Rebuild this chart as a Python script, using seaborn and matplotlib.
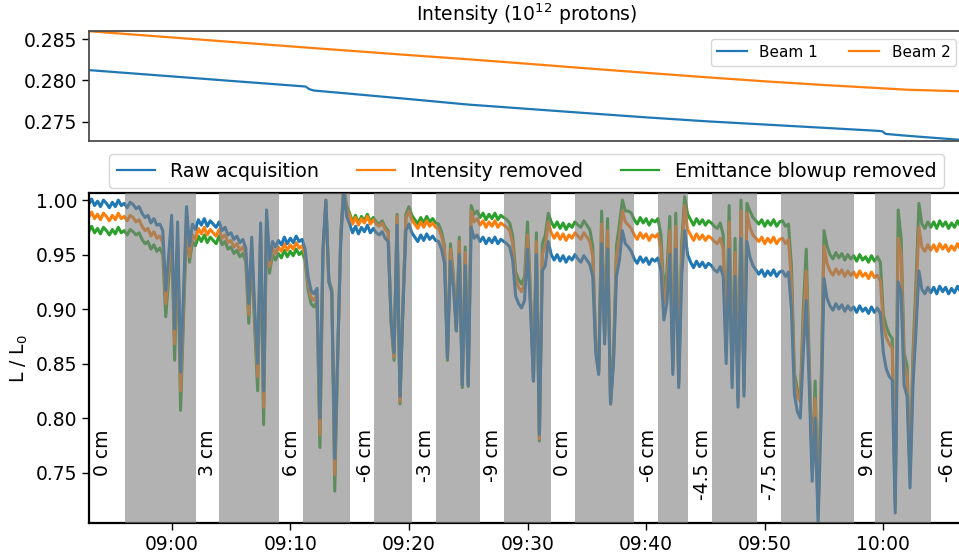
import matplotlib
matplotlib.use("Agg")
import matplotlib.pyplot as plt
import matplotlib.dates as mdates
import numpy as np
import pandas as pd
import seaborn as sns

# Luminosity ratio L/L0 in units of 1e-3, one sample every 15 s from 08:53:00
raw_permille = [
    996, 1001, 995, 999, 994, 1000, 997, 993,
    998, 994, 1000, 995, 997, 993, 998, 996,
    992, 994, 988, 984, 986, 979, 983, 977,
    978, 972, 917, 950, 986, 882, 980, 842,
    915, 994, 958, 978, 973, 982, 977, 983,
    976, 981, 978, 975, 980, 972, 975, 968,
    970, 964, 967, 961, 964, 956, 905, 966,
    900, 850, 979, 825, 991, 945, 962, 957,
    963, 959, 966, 960, 965, 961, 967, 962,
    964, 955, 930, 917, 914, 919, 800, 955,
    1000, 925, 915, 763, 860, 960, 1008, 985,
    978, 970, 976, 969, 975, 971, 977, 970,
    974, 970, 968, 971, 965, 962, 890, 860,
    977, 820, 900, 972, 978, 970, 966, 962,
    968, 963, 969, 964, 967, 963, 962, 955,
    942, 855, 944, 920, 880, 950, 830, 940,
    830, 975, 965, 968, 962, 966, 960, 965,
    961, 966, 960, 964, 962, 960, 957, 945,
    912, 905, 901, 908, 955, 900, 834, 950,
    785, 935, 940, 962, 950, 945, 950, 944,
    949, 943, 948, 945, 950, 946, 943, 949,
    945, 941, 930, 860, 840, 960, 868, 955,
    813, 850, 930, 945, 972, 960, 957, 953,
    946, 942, 948, 943, 947, 941, 946, 944,
    947, 935, 890, 905, 950, 840, 955, 828,
    930, 972, 950, 943, 938, 944, 939, 943,
    938, 942, 940, 936, 934, 939, 930, 850,
    955, 828, 930, 810, 965, 820, 962, 948,
    940, 936, 932, 936, 930, 935, 931, 936,
    930, 934, 935, 930, 934, 900, 822, 806,
    800, 860, 908, 830, 742, 800, 702, 800,
    928, 910, 903, 899, 905, 900, 904, 898,
    903, 899, 902, 897, 903, 898, 901, 896,
    902, 897, 901, 896, 860, 845, 838, 835,
    713, 925, 915, 830, 820, 736, 830, 880,
    935, 918, 914, 920, 915, 920, 914, 921,
    916, 920, 914, 919, 915, 921, 916,
]

intensity_removed_permille = [
    984, 989, 983, 987, 982, 988, 985, 981,
    986, 982, 988, 983, 985, 981, 986, 984,
    980, 982, 976, 972, 974, 967, 971, 965,
    967, 961, 905, 938, 975, 868, 969, 825,
    901, 984, 948, 968, 964, 974, 969, 975,
    968, 973, 970, 967, 973, 965, 968, 961,
    963, 957, 960, 954, 957, 949, 895, 959,
    890, 838, 973, 810, 985, 939, 956, 951,
    957, 953, 960, 954, 959, 955, 961, 956,
    958, 949, 924, 911, 908, 913, 785, 950,
    1000, 925, 917, 748, 858, 965, 1010, 992,
    986, 978, 984, 977, 983, 979, 985, 978,
    982, 978, 976, 979, 973, 970, 888, 856,
    985, 815, 905, 983, 990, 982, 978, 974,
    980, 975, 981, 976, 979, 975, 974, 967,
    955, 855, 955, 928, 880, 962, 830, 952,
    831, 990, 980, 983, 977, 981, 975, 980,
    976, 981, 975, 979, 977, 975, 972, 960,
    927, 920, 916, 923, 968, 910, 834, 962,
    781, 950, 958, 980, 970, 965, 970, 964,
    969, 963, 968, 965, 970, 967, 964, 970,
    966, 962, 948, 865, 842, 978, 873, 972,
    813, 855, 948, 965, 990, 980, 977, 974,
    968, 964, 970, 965, 969, 963, 968, 966,
    969, 955, 905, 922, 972, 845, 976, 832,
    950, 995, 973, 968, 963, 969, 964, 968,
    963, 967, 965, 962, 960, 965, 955, 858,
    980, 835, 952, 815, 990, 826, 988, 975,
    968, 965, 962, 966, 960, 965, 961, 966,
    960, 964, 965, 960, 964, 925, 835, 820,
    815, 885, 935, 845, 750, 818, 712, 820,
    958, 942, 935, 931, 937, 932, 936, 930,
    935, 931, 934, 929, 935, 930, 933, 928,
    934, 929, 931, 926, 885, 874, 868, 864,
    720, 965, 950, 850, 838, 745, 850, 910,
    975, 957, 953, 959, 954, 959, 953, 960,
    955, 959, 953, 958, 954, 960, 955,
]

emittance_removed_permille = [
    971, 976, 970, 974, 969, 975, 972, 968,
    973, 969, 975, 970, 972, 968, 973, 971,
    968, 970, 964, 960, 962, 955, 959, 953,
    956, 950, 893, 928, 965, 853, 958, 807,
    890, 976, 943, 962, 958, 967, 962, 968,
    961, 966, 963, 960, 967, 959, 962, 955,
    957, 951, 954, 948, 951, 943, 887, 953,
    882, 825, 967, 794, 979, 933, 950, 945,
    951, 947, 954, 948, 953, 949, 955, 950,
    953, 944, 918, 905, 902, 907, 773, 948,
    998, 927, 918, 733, 857, 968, 1012, 995,
    988, 980, 986, 979, 985, 981, 987, 980,
    984, 980, 978, 981, 975, 972, 887, 853,
    987, 813, 905, 987, 994, 986, 982, 978,
    984, 979, 985, 980, 983, 979, 978, 971,
    958, 853, 960, 932, 880, 966, 828, 957,
    829, 995, 987, 990, 984, 988, 982, 987,
    983, 988, 982, 986, 984, 982, 979, 967,
    934, 927, 923, 930, 980, 915, 834, 970,
    779, 960, 968, 988, 980, 975, 980, 974,
    979, 973, 978, 975, 980, 977, 975, 981,
    977, 973, 958, 868, 843, 990, 876, 983,
    813, 858, 958, 978, 1000, 990, 990, 988,
    982, 978, 984, 979, 983, 977, 982, 980,
    983, 968, 915, 935, 985, 848, 988, 835,
    962, 1003, 987, 982, 977, 983, 978, 982,
    977, 981, 979, 976, 974, 979, 968, 862,
    995, 838, 965, 818, 1000, 830, 997, 990,
    984, 981, 978, 982, 976, 981, 977, 982,
    976, 980, 981, 976, 978, 940, 842, 826,
    820, 900, 955, 852, 752, 834, 716, 830,
    972, 958, 950, 946, 952, 947, 951, 945,
    950, 946, 949, 944, 950, 945, 948, 943,
    949, 944, 948, 943, 895, 884, 877, 873,
    725, 991, 965, 860, 848, 750, 860, 925,
    997, 978, 974, 980, 975, 980, 974, 981,
    976, 980, 974, 979, 975, 981, 976,
]

# Beam intensities (1e12 protons) at minutes relative to 09:00
beam_minutes = [-7, 0, 5, 10, 11.0, 11.3, 11.6, 12.0, 15, 20, 25, 30, 35,
                40, 45, 50, 55, 59.6, 59.9, 60.2, 62, 66.8]
beam1_intensity = [0.28126, 0.28050, 0.27995, 0.27941, 0.27930, 0.27926,
                   0.27895, 0.27878, 0.27840, 0.27775, 0.27708, 0.27656,
                   0.27604, 0.27553, 0.27506, 0.27466, 0.27426, 0.27389,
                   0.27384, 0.27352, 0.27330, 0.27277]
beam2_intensity = [0.28598, 0.28522, 0.28468, 0.28414, 0.28403, 0.28400,
                   0.28397, 0.28392, 0.28361, 0.28308, 0.28257, 0.28203,
                   0.28147, 0.28093, 0.28040, 0.27990, 0.27945, 0.27908,
                   0.27905, 0.27903, 0.27888, 0.27868]

# Separation scans (minutes relative to 09:00) and the offset of each plateau
scan_windows = [(-3.96, 2.02), (4.01, 9.02), (11.05, 15.03), (17.03, 20.29),
                (22.29, 26.0), (28.02, 32.0), (34.03, 39.0), (41.03, 43.53),
                (45.56, 49.35), (51.4, 57.55), (59.3, 64.02)]
offset_labels = ["0 cm", "3 cm", "6 cm", "-6 cm", "-3 cm", "-9 cm", "0 cm",
                 "-6 cm", "-4.5 cm", "-7.5 cm", "9 cm", "-6 cm"]
offset_label_minutes = [-5.83, 3.06, 10.12, 16.38, 21.36, 27.09, 32.92,
                        40.17, 44.76, 50.49, 58.67, 65.41]

plt.rcParams["font.family"] = ["DejaVu Sans"]
FS = 13.5

hour_mark = pd.Timestamp("2018-10-26 09:00:00")
sample_times = pd.date_range(hour_mark - pd.Timedelta(minutes=7),
                             periods=len(raw_permille), freq="15s")


def at(minutes):
    return mdates.date2num(hour_mark + pd.Timedelta(minutes=minutes))


lumi = pd.DataFrame({
    "time": sample_times,
    "raw": np.array(raw_permille) / 1000.0,
    "intensity": np.array(intensity_removed_permille) / 1000.0,
    "emittance": np.array(emittance_removed_permille) / 1000.0,
})
beams = pd.DataFrame({
    "time": hour_mark + pd.to_timedelta(beam_minutes, unit="min"),
    "beam1": beam1_intensity,
    "beam2": beam2_intensity,
})

W, H = 959, 557
fig = plt.figure(figsize=(W / 100, H / 100), dpi=100)
left, right = 89, 964
ax_top = fig.add_axes([left / W, 1 - 140.7 / H, (right - left) / W, 109.7 / H])
ax_bot = fig.add_axes([left / W, 1 - 523.3 / H, (right - left) / W, 330.3 / H])

blue, orange, green = "#1f77b4", "#ff7f0e", "#2ca02c"
LW = 2.2

# --- beam intensity panel
sns.lineplot(data=beams, x="time", y="beam1", ax=ax_top, color=blue,
             lw=1.6, label="Beam 1", estimator=None)
sns.lineplot(data=beams, x="time", y="beam2", ax=ax_top, color=orange,
             lw=1.6, label="Beam 2", estimator=None)
ax_top.set_ylim(0.2727, 0.2860)
ax_top.set_yticks([0.275, 0.280, 0.285])
ax_top.set_yticklabels(["0.275", "0.280", "0.285"])
ax_top.set_xlabel("")
ax_top.set_ylabel("")
ax_top.set_title("Intensity (10$^{12}$ protons)", fontsize=FS, pad=7)
ax_top.tick_params(axis="x", bottom=False, labelbottom=False)
ax_top.tick_params(axis="y", labelsize=FS, length=5, width=1)
for sp in ax_top.spines.values():
    sp.set_color("0.3")
    sp.set_linewidth(1.3)
ax_top.legend(loc="upper right", ncol=2, fontsize=11)

# --- luminosity panel
sns.lineplot(data=lumi, x="time", y="emittance", ax=ax_bot, color=green,
             lw=LW, estimator=None, zorder=2.1)
sns.lineplot(data=lumi, x="time", y="intensity", ax=ax_bot, color=orange,
             lw=LW, estimator=None, zorder=2.2)
sns.lineplot(data=lumi, x="time", y="raw", ax=ax_bot, color=blue,
             lw=LW, estimator=None, zorder=2.3)

for start, end in scan_windows:
    ax_bot.axvspan(at(start), at(end), color="gray", alpha=0.6, lw=0, zorder=3)

for m, txt in zip(offset_label_minutes, offset_labels):
    ax_bot.text(at(m), 0.79, txt, rotation=90, ha="center", va="top",
                fontsize=FS, zorder=4)

ax_bot.set_ylim(0.7035, 1.0065)
ax_bot.set_yticks([0.75, 0.80, 0.85, 0.90, 0.95, 1.00])
ax_bot.set_yticklabels(["0.75", "0.80", "0.85", "0.90", "0.95", "1.00"])
ax_bot.set_xlabel("")
ax_bot.set_ylabel("L / L$_0$", fontsize=FS)
ax_bot.xaxis.set_major_locator(mdates.MinuteLocator(byminute=[0, 10, 20, 30, 40, 50]))
ax_bot.xaxis.set_major_formatter(mdates.DateFormatter("%H:%M"))
ax_bot.tick_params(labelsize=FS, length=5, width=1)
for sp in ax_bot.spines.values():
    sp.set_color("black")
    sp.set_linewidth(1.6)

handles = [plt.Line2D([], [], color=c, lw=1.6) for c in (blue, orange, green)]
ax_bot.legend(handles, ["Raw acquisition", "Intensity removed",
                        "Emittance blowup removed"],
              loc="lower center", bbox_to_anchor=(0.5, 1.0), ncol=3,
              fontsize=13.7, borderaxespad=0.25)

for ax in (ax_top, ax_bot):
    ax.set_xlim(at(-6.97), at(66.8))

fig.savefig("out.png", dpi=100)
